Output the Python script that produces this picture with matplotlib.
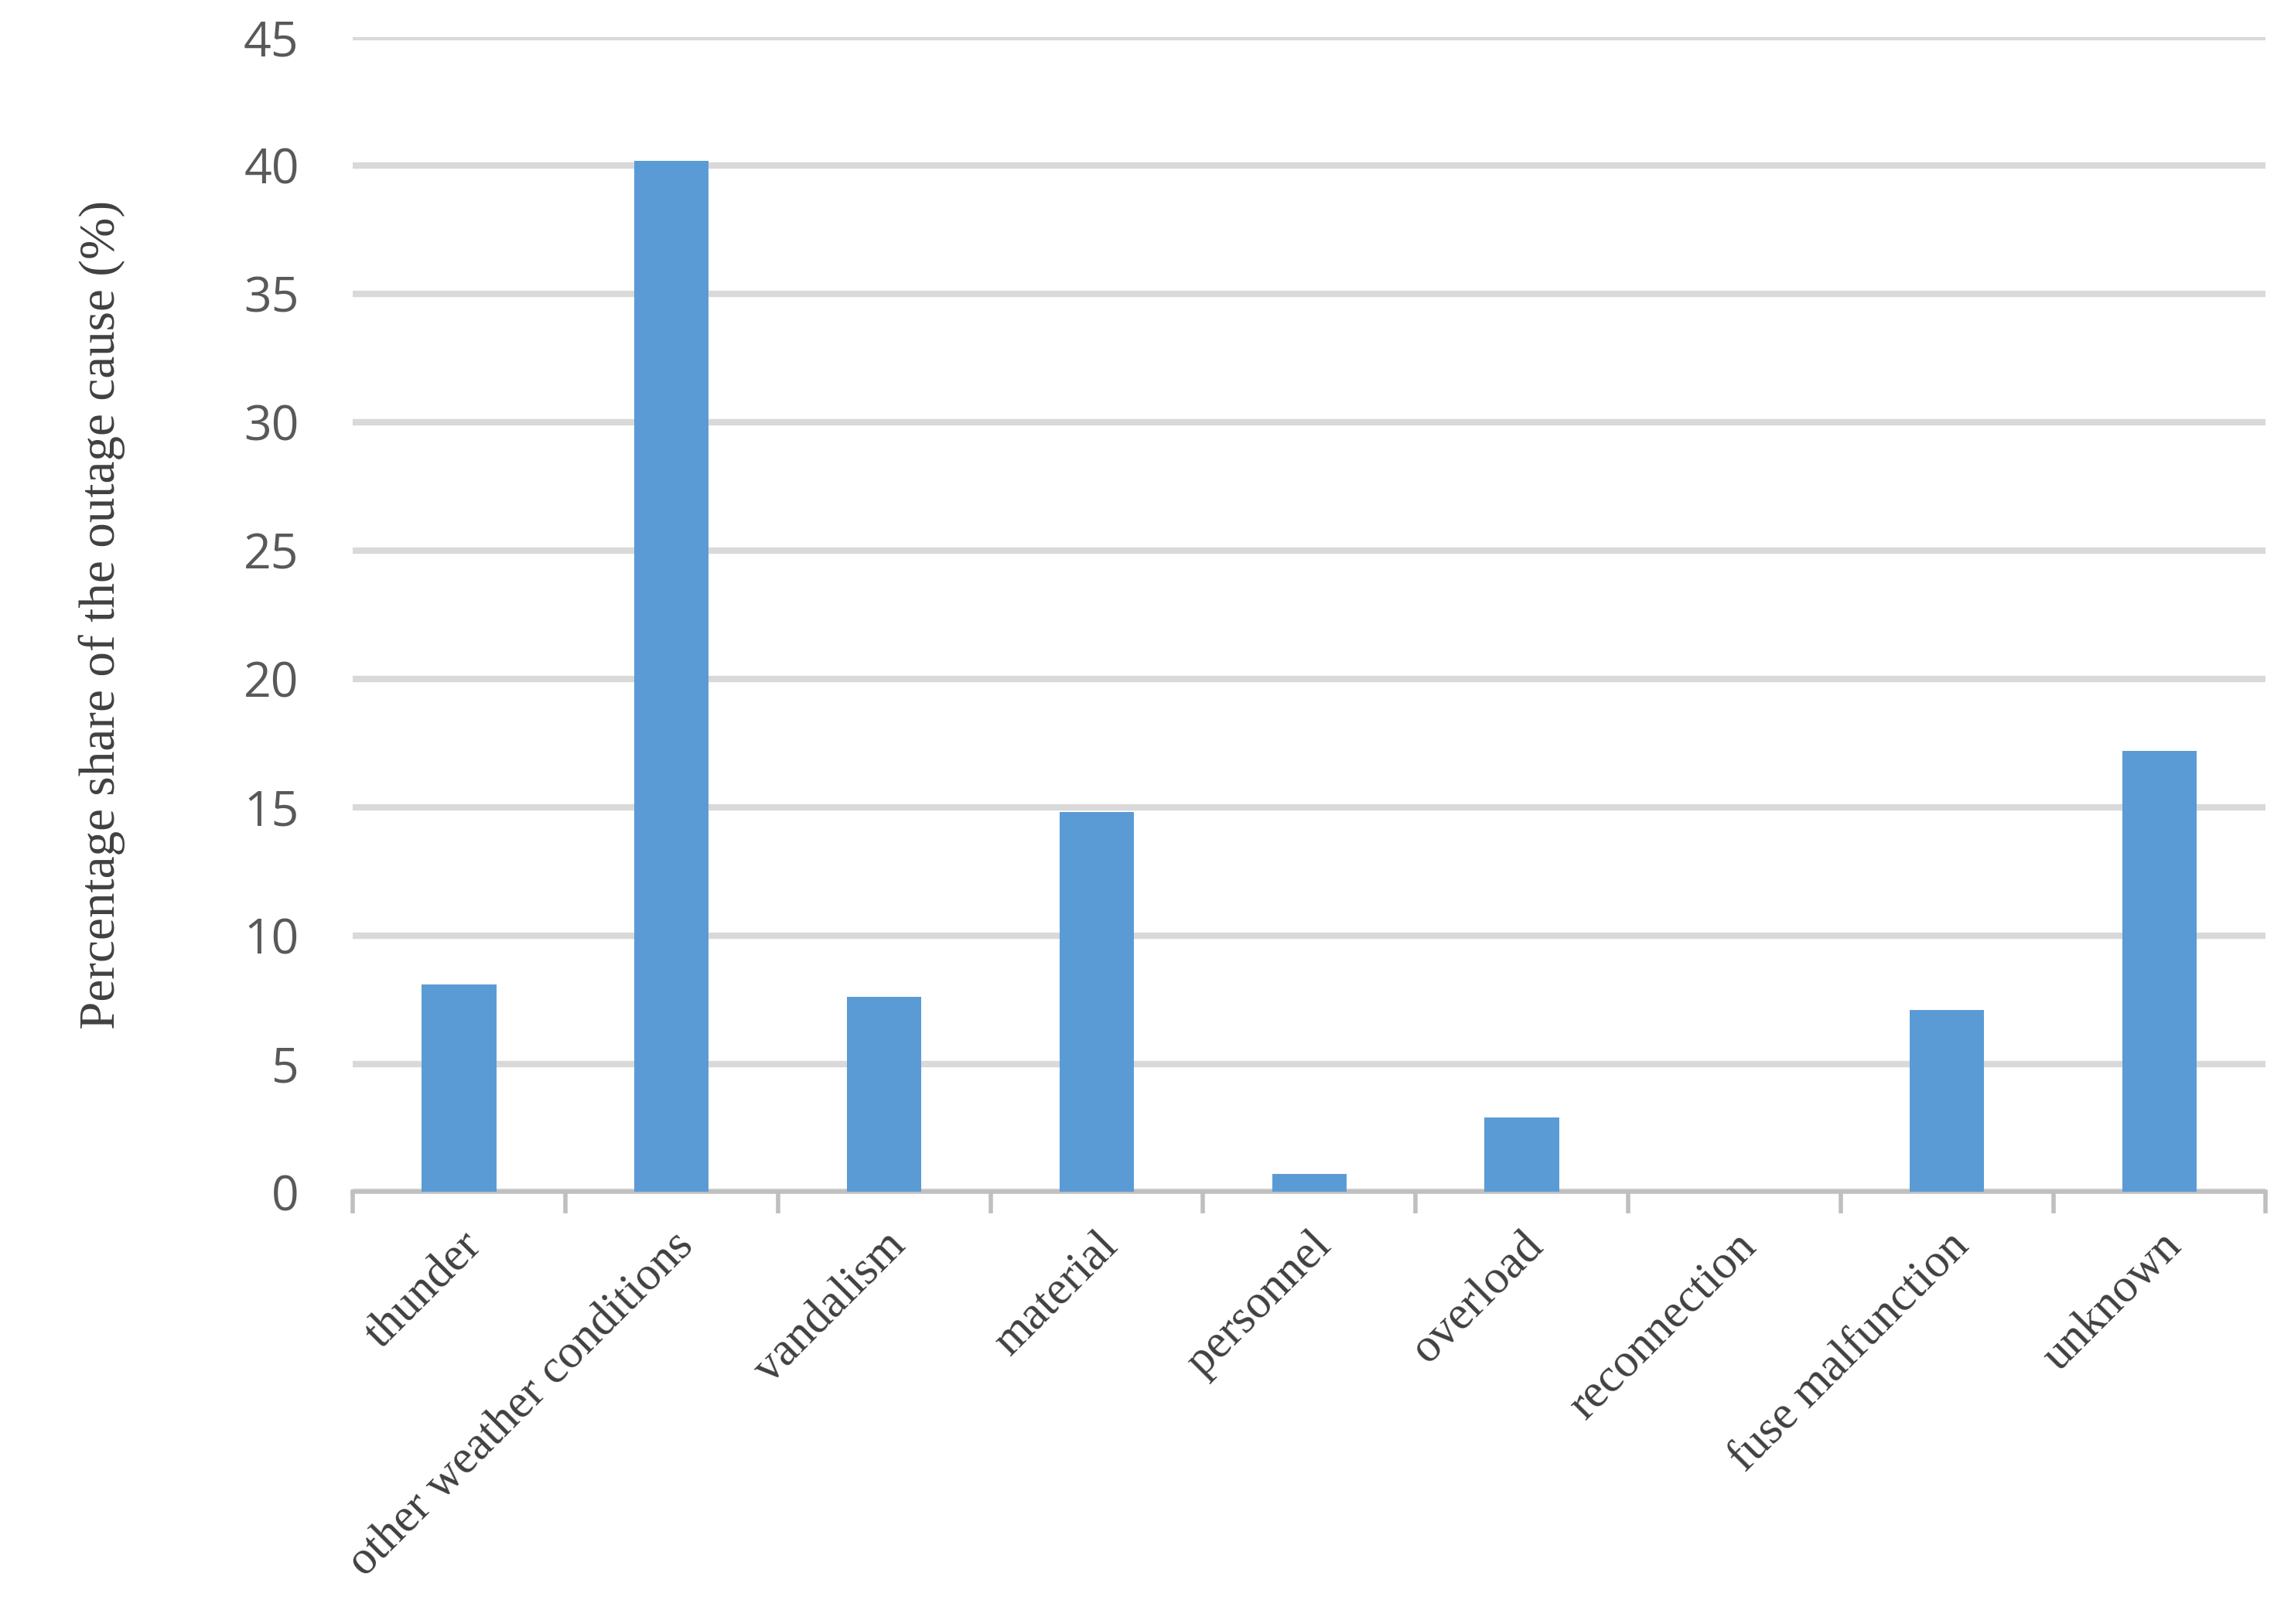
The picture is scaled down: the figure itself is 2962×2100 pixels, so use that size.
import matplotlib
matplotlib.use("Agg")
import matplotlib.pyplot as plt
import numpy as np

categories = ["thunder", "other weather conditions", "vandalism", "material", "personnel",
              "overload", "reconnection", "fuse malfunction", "unknown"]
values = [8.1, 40.2, 7.6, 14.8, 0.7, 2.9, 0.0, 7.1, 17.2]
yticks = [0, 5, 10, 15, 20, 25, 30, 35, 40, 45]

fig = plt.figure(figsize=(29.62, 21), dpi=100)
ax = fig.add_axes([0.154, 0.266, 0.835, 0.711])
x = np.arange(len(categories))
ax.bar(x, values, width=0.35, color="#5B9BD5", zorder=3)
ax.set_xlim(-0.5, len(categories) - 0.5)
ax.set_ylim(0, 45)
ax.set_yticks(yticks)
ax.yaxis.grid(True, color="#D9D9D9", linewidth=6, zorder=0)
for s in ["top", "right", "left"]:
    ax.spines[s].set_visible(False)
ax.spines["bottom"].set_color("#BFBFBF")
ax.spines["bottom"].set_linewidth(4)
ax.tick_params(axis="y", length=0, labelsize=45, labelcolor="#595959", pad=50)
for lab in ax.get_yticklabels():
    lab.set_family("Open Sans")
ax.set_xticks(np.arange(len(categories) + 1) - 0.5, minor=True)
ax.tick_params(axis="x", which="minor", length=20, width=4, color="#BFBFBF")
ax.set_xticks(x)
ax.set_xticklabels(categories, rotation=45, ha="right", rotation_mode="anchor",
                   family="Liberation Serif", fontsize=44, color="#404040")
ax.tick_params(axis="x", which="major", length=0, pad=30)
ax.set_ylabel("Percentage share of the outage cause (%)", family="Liberation Serif",
              fontsize=47, color="#404040", labelpad=110)
fig.savefig("out.png", dpi=100)
